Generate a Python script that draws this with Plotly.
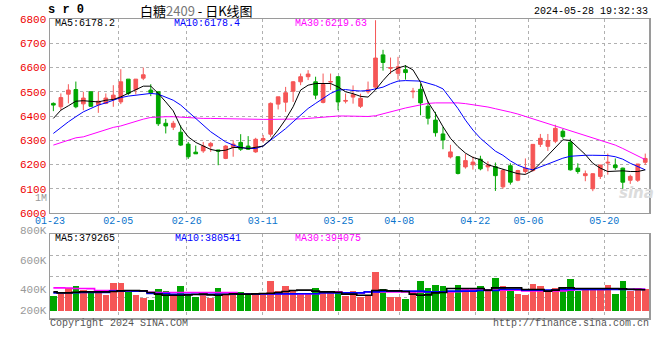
import plotly.graph_objects as go

# ---------------- data ----------------
dates = ["01-23","01-24","01-25","01-26","01-29","01-30","01-31","02-01","02-02","02-05",
         "02-06","02-07","02-08","02-19","02-20","02-21","02-22","02-23","02-26","02-27",
         "02-28","02-29","03-01","03-04","03-05","03-06","03-07","03-08","03-11","03-12",
         "03-13","03-14","03-15","03-18","03-19","03-20","03-21","03-22","03-25","03-26",
         "03-27","03-28","03-29","04-01","04-02","04-03","04-08","04-09","04-10","04-11",
         "04-12","04-15","04-16","04-17","04-18","04-19","04-22","04-23","04-24","04-25",
         "04-26","04-29","04-30","05-06","05-07","05-08","05-09","05-10","05-13","05-14",
         "05-15","05-16","05-17","05-20","05-21","05-22","05-23","05-24","05-27","05-28"]

opens = [6452,6438,6490,6509,6450,6500,6446,6452,6468,6458,6552,6509,6556,6507,6500,6370,6354,6333,6284,6251,
         6256,6276,6260,6225,6270,6291,6276,6252,6300,6325,6449,6457,6502,6541,6562,6541,6456,6540,6562,6461,
         6478,6440,6500,6519,6652,6597,6576,6591,6500,6510,6440,6383,6326,6231,6232,6190,6199,6222,6190,6191,
         6108,6195,6135,6171,6175,6283,6275,6296,6337,6292,6185,6154,6100,6151,6206,6198,6185,6135,6135,6209]
highs = [6456,6493,6531,6542,6500,6502,6500,6493,6527,6593,6552,6552,6600,6531,6500,6388,6380,6361,6293,6278,
         6293,6293,6260,6280,6300,6325,6317,6310,6322,6456,6479,6520,6544,6575,6589,6562,6575,6575,6564,6493,
         6526,6492,6542,6795,6673,6641,6644,6610,6516,6533,6461,6417,6356,6281,6233,6244,6233,6236,6213,6208,
         6182,6205,6178,6225,6283,6326,6326,6364,6346,6306,6205,6175,6164,6198,6245,6225,6187,6158,6202,6245]
lows = [6420,6424,6452,6432,6424,6437,6413,6449,6438,6449,6486,6489,6548,6482,6359,6328,6342,6276,6223,6244,
        6248,6252,6197,6222,6232,6256,6260,6248,6290,6314,6427,6417,6458,6527,6548,6469,6452,6507,6424,6452,
        6451,6433,6492,6508,6587,6573,6550,6550,6473,6403,6365,6315,6263,6225,6159,6183,6179,6176,6172,6091,
        6100,6117,6131,6162,6171,6272,6256,6288,6306,6175,6162,6131,6090,6140,6158,6178,6100,6120,6128,6198]
closes = [6445,6476,6507,6438,6474,6440,6461,6474,6486,6541,6493,6552,6570,6496,6368,6359,6370,6280,6232,6244,
          6276,6287,6255,6276,6284,6263,6263,6304,6307,6452,6479,6496,6541,6562,6573,6486,6530,6542,6458,6464,
          6488,6473,6508,6639,6621,6599,6603,6579,6502,6454,6391,6331,6301,6252,6163,6216,6210,6182,6198,6154,
          6175,6127,6175,6185,6283,6308,6299,6349,6315,6178,6171,6162,6162,6198,6209,6187,6127,6151,6202,6225]

ma5 = [6390,6424,6442,6461,6463,6461,6458,6465,6468,6479,6493,6509,6523,6523,6493,6458,6421,6355,6314,6291,
       6276,6262,6256,6259,6270,6270,6266,6270,6276,6303,6342,6386,6438,6507,6527,6534,6534,6534,6520,6500,
       6492,6481,6478,6508,6546,6580,6598,6607,6590,6539,6458,6410,6356,6308,6274,6247,6229,6220,6199,6190,
       6181,6171,6162,6159,6175,6205,6238,6272,6302,6299,6272,6241,6205,6185,6171,6174,6174,6171,6171,6178]
ma10 = [6328,6353,6376,6397,6417,6431,6445,6454,6465,6476,6482,6486,6490,6493,6490,6476,6465,6445,6417,6390,
        6362,6335,6314,6293,6280,6270,6266,6266,6276,6300,6321,6348,6376,6403,6431,6452,6472,6493,6507,6509,
        6505,6503,6505,6512,6519,6533,6544,6546,6546,6544,6535,6526,6512,6471,6431,6383,6342,6308,6281,6255,
        6238,6215,6197,6185,6178,6190,6200,6214,6226,6234,6237,6238,6238,6238,6237,6232,6222,6205,6190,6178]
ma30 = [6280,6289,6300,6310,6314,6324,6333,6342,6353,6359,6369,6379,6387,6394,6397,6397,6397,6395,6392,6390,
        6390,6390,6389,6389,6389,6388,6387,6386,6386,6386,6386,6387,6387,6388,6390,6393,6395,6397,6400,6400,
        6399,6398,6398,6401,6410,6417,6425,6433,6440,6447,6452,6454,6455,6455,6454,6451,6447,6443,6437,6430,
        6424,6416,6408,6398,6388,6378,6368,6358,6350,6340,6331,6321,6310,6300,6290,6280,6266,6250,6234,6220]

volumes = [325,347,389,408,375,353,369,331,431,431,361,339,314,297,381,367,325,406,347,322,
           347,314,389,347,339,364,342,339,333,450,367,408,372,344,353,397,361,361,372,325,
           367,322,333,525,381,322,317,306,356,450,389,414,406,372,414,397,381,406,367,472,
           406,367,347,331,422,411,372,397,389,464,367,381,397,397,414,347,450,367,397,383]
vol_ma5 = [361,353,353,358,361,361,361,361,364,369,372,372,369,356,342,333,333,333,336,339,
           342,336,333,339,344,342,342,344,347,350,356,364,372,375,375,367,361,361,358,342,
           342,333,333,372,375,369,369,364,342,333,336,353,356,389,389,389,389,389,375,394,
           394,394,394,381,381,381,367,375,394,394,389,389,389,389,389,389,386,383,381,379]
vol_ma10 = [353,353,354,354,356,356,357,357,367,367,368,367,366,347,347,348,340,340,340,341,
            340,340,340,341,341,342,342,342,343,344,344,344,344,345,345,345,353,353,353,353,
            353,353,361,361,367,367,367,367,367,367,361,361,361,367,367,367,367,372,372,372,
            383,383,383,375,375,375,375,375,381,381,381,381,381,381,381,381,381,381,381,381]
vol_ma30 = [394,394,393,389,389,388,372,372,371,369,369,369,368,357,356,356,356,356,356,356,
            356,356,355,355,355,345,344,344,344,344,344,344,344,344,344,345,361,361,361,353,
            353,353,361,361,361,361,361,361,361,361,361,361,361,361,362,375,375,375,375,375,
            375,375,375,369,369,369,369,369,369,375,381,381,381,381,382,382,383,383,384,385]

tick_dates = ["01-23","02-05","02-26","03-11","03-25","04-08","04-22","05-06","05-20"]
price_ticks = [6000,6100,6200,6300,6400,6500,6600,6700,6800]
vol_labels = ["800K","600K","400K","200K"]
vol_base = 200  # thousand lots, bar baseline

# ---------------- styling ----------------
RED = "#f55656"
GREEN = "#00a600"
MONO = "Liberation Mono, DejaVu Sans Mono, monospace"
CJK = "Noto Sans CJK SC, sans-serif"
FRAME = "#9a9a9a"
GRID = "#b0b0b0"

idx = list(range(len(dates)))
vols = [v * 1000 for v in volumes]
vcolors = [RED if c >= o else GREEN for o, c in zip(opens, closes)]
tick_idx = [dates.index(d) for d in tick_dates]

fig = go.Figure()

fig.add_trace(go.Candlestick(
    x=idx, open=opens, high=highs, low=lows, close=closes,
    increasing=dict(line=dict(color=RED, width=1), fillcolor=RED),
    decreasing=dict(line=dict(color=GREEN, width=1), fillcolor=GREEN),
    whiskerwidth=0, showlegend=False, hoverinfo="skip", xaxis="x", yaxis="y"))

for arr, col in [(ma30, "#ff00ff"), (ma10, "#0000ff"), (ma5, "#000000")]:
    fig.add_trace(go.Scatter(x=idx, y=arr, mode="lines", line=dict(color=col, width=1),
                             showlegend=False, hoverinfo="skip", xaxis="x", yaxis="y"))

fig.add_trace(go.Bar(x=idx, y=[v - vol_base * 1000 for v in vols], base=vol_base * 1000,
                     marker=dict(color=vcolors, line=dict(width=0)), width=0.87,
                     showlegend=False, hoverinfo="skip", xaxis="x2", yaxis="y2"))
for arr, col in [(vol_ma30, "#ff00ff"), (vol_ma10, "#0000ff"), (vol_ma5, "#000000")]:
    fig.add_trace(go.Scatter(x=idx, y=[v * 1000 for v in arr], mode="lines",
                             line=dict(color=col, width=1.6, shape="hvh"),
                             showlegend=False, hoverinfo="skip", xaxis="x2", yaxis="y2"))

# helper traces so the date-grid axes exist
fig.add_trace(go.Scatter(x=tick_idx, y=[None] * len(tick_idx), mode="markers",
                         showlegend=False, hoverinfo="skip", xaxis="x3", yaxis="y"))
fig.add_trace(go.Scatter(x=tick_idx, y=[None] * len(tick_idx), mode="markers",
                         showlegend=False, hoverinfo="skip", xaxis="x4", yaxis="y2"))

main_dom = [0.3512, 1.0]
vol_dom = [0.0, 0.2809]
xr = [-0.45, len(dates) - 0.5]
grid_r = [0, 78.88]
vr = [145000, 839000]
vq = [vr[0] + (vr[1] - vr[0]) * k / 4 for k in (1, 2, 3)]

frame = dict(showline=True, mirror=True, linecolor=FRAME, linewidth=1.5, zeroline=False,
             automargin=False)

fig.update_layout(
    width=660, height=360, margin=dict(l=50, r=11, t=19, b=42, autoexpand=False),
    paper_bgcolor="white", plot_bgcolor="white",
    xaxis=dict(domain=[0, 1], anchor="y", range=xr, showgrid=False, showticklabels=False,
               rangeslider=dict(visible=False), ticks="", **frame),
    xaxis2=dict(domain=[0, 1], anchor="y2", range=xr, showgrid=False, showticklabels=False,
                ticks="", **frame),
    xaxis3=dict(overlaying="x", anchor="y", range=grid_r, tickvals=tick_idx, ticktext=tick_dates,
                showgrid=True, gridcolor=GRID, griddash="dot", gridwidth=1, zeroline=False,
                showline=False, ticks="", automargin=False,
                tickfont=dict(family=MONO, size=10, color="#0a74cc"), side="bottom"),
    xaxis4=dict(overlaying="x2", anchor="y2", range=grid_r, tickvals=tick_idx,
                showgrid=True, gridcolor=GRID, griddash="dot", gridwidth=1, zeroline=False,
                showline=False, showticklabels=False, ticks="", automargin=False),
    yaxis=dict(domain=main_dom, anchor="x", range=[price_ticks[0], price_ticks[-1]],
               tickvals=price_ticks, ticktext=[str(p) for p in price_ticks],
               showgrid=True, gridcolor=GRID, griddash="dot", ticks="",
               tickfont=dict(family=MONO, size=11, color="#ee0000"), **frame),
    yaxis2=dict(domain=vol_dom, anchor="x2", range=vr, tickvals=vq, showticklabels=False,
                showgrid=True, gridcolor=GRID, griddash="dot", ticks="", **frame),
    bargap=0,
)

def px(x):
    return (x - 50) / 599.0

def py(y):
    return (318 - y) / 299.0

ann = []
def text(t, x, y, xa, color="#000", size=10, family=MONO, **kw):
    ann.append(dict(text=t, x=px(x), y=py(y), xref="paper", yref="paper", xanchor=xa,
                    yanchor="middle", showarrow=False, borderpad=0,
                    font=dict(family=family, size=size, color=color), **kw))

text("<b>s r 0</b>", 47, 10, "left", size=12)
text("白糖<span style='color:#777'>2409</span> - 日K线图", 139, 10, "left", size=13, family=CJK)
text("2024-05-28 19:32:33", 649, 11, "right", size=10)
text("MA5:6178.2", 54, 24, "left")
text("MA10:6178.4", 173, 24, "left", color="#0000ff")
text("MA30:6219.63", 294, 24, "left", color="#ff00ff")
text("1M", 48, 198, "right", color="#999", size=10)
for lab, yy in zip(vol_labels, [231, 261, 290, 311]):
    text(lab, 48, yy, "right", color="#999", size=11)
text("MA5:379265", 54, 238, "left")
text("MA10:380541", 174, 238, "left", color="#0000ff")
text("MA30:394075", 294, 238, "left", color="#ff00ff")
text("Copyright 2024 SINA.COM", 49, 323, "left", color="#555")
text("http://finance.sina.com.cn", 650, 323, "right", color="#555")
text("<b><i>sina</i></b>", 636, 193, "center", color="#dcdcdc", size=15, family="DejaVu Sans")

fig.update_layout(annotations=ann)
fig.write_html("out.html", config={"displayModeBar": False, "staticPlot": True},
               post_script="document.body.style.margin='0px';")
